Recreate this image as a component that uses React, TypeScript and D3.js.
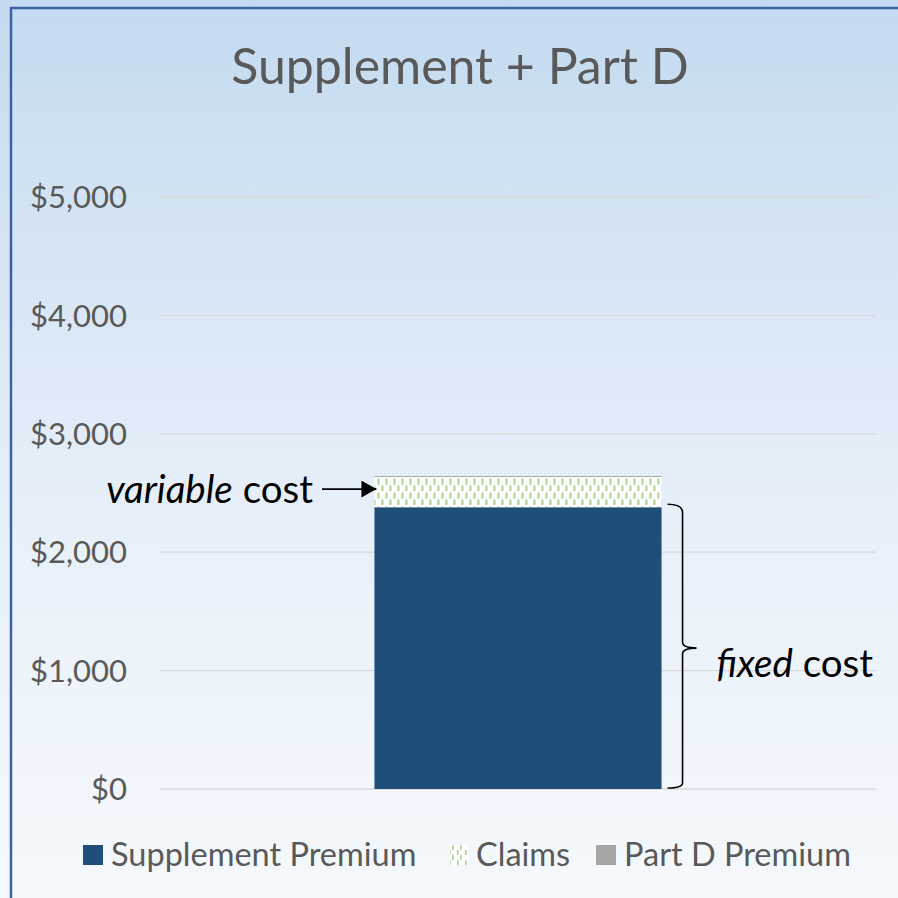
import React from 'react';
import * as d3 from 'd3';

// chart values
const categories = ['Supplement + Part D'];
const seriesNames = ['Supplement Premium', 'Claims', 'Part D Premium'];
const supplementPremium = [2380];
const claims = [255];
const partDPremium = [8];
const yTicks = [0, 1000, 2000, 3000, 4000, 5000];

const W = 898;
const H = 898;
const margin = { top: 197, right: 22, bottom: 109, left: 160 };
const colors = ['#1f4e79', 'url(#claimsPattern)', '#a5a5a5'];
const font = 'Lato, "Open Sans", sans-serif';

export default function App() {
  const rows = categories.map((c, i) => ({
    category: c,
    [seriesNames[0]]: supplementPremium[i],
    [seriesNames[1]]: claims[i],
    [seriesNames[2]]: partDPremium[i],
  }));
  const stacked = d3.stack<any>().keys(seriesNames)(rows);

  const x = d3
    .scaleBand()
    .domain(categories)
    .range([margin.left, W - margin.right])
    .paddingInner(0)
    .paddingOuter(0.747);

  const y = d3
    .scaleLinear()
    .domain([0, 5000])
    .range([H - margin.bottom, margin.top]);

  const fmt = (v: number) => '$' + d3.format(',')(v);

  const bx = x(categories[0]) as number;
  const bw = x.bandwidth();
  const fixedTop = y(stacked[0][0][1]);
  const varTop = y(stacked[1][0][1]);
  const varMid = (y(stacked[1][0][0]) + varTop) / 2;
  const base = y(0);

  // curly brace next to the fixed part
  const braceX = bx + bw + 6;
  const midY = (fixedTop + base) / 2;
  const bracePath = [
    `M${braceX},${fixedTop - 3}`,
    `Q${braceX + 15},${fixedTop - 3} ${braceX + 15},${fixedTop + 5}`,
    `L${braceX + 15},${midY - 6}`,
    `Q${braceX + 15},${midY} ${braceX + 29},${midY}`,
    `Q${braceX + 15},${midY} ${braceX + 15},${midY + 6}`,
    `L${braceX + 15},${base - 6}`,
    `Q${braceX + 15},${base - 1} ${braceX},${base - 1}`,
  ].join(' ');

  const legendItems = [
    { name: seriesNames[0], fill: colors[0], x: 83, w: 20 },
    { name: seriesNames[1], fill: 'url(#claimsLegend)', x: 450, w: 18 },
    { name: seriesNames[2], fill: colors[2], x: 596, w: 20 },
  ];

  return (
    <svg
      width={W}
      height={H}
      style={{ position: 'absolute', left: 0, top: 0, display: 'block' }}
    >
      <defs>
        <linearGradient id="bg" x1="0" y1="0" x2="0" y2="1">
          <stop offset="0" stopColor="#c4daf0" />
          <stop offset="0.55" stopColor="#e6eff9" />
          <stop offset="1" stopColor="#f5f9fd" />
        </linearGradient>
        <pattern id="claimsPattern" width="8" height="14" patternUnits="userSpaceOnUse" x={bx + 3} y={varTop}>
          <rect width="8" height="14" fill="#ffffff" />
          <rect x="0" y="1.5" width="2" height="6" fill="#a9d18e" />
          <rect x="4" y="8.5" width="2" height="6" fill="#a9d18e" />
        </pattern>
        <pattern id="claimsLegend" width="8" height="10" patternUnits="userSpaceOnUse" x={452} y={845}>
          <rect width="8" height="10" fill="#ffffff" />
          <rect x="0" y="0" width="1.6" height="5" fill="#a9d18e" />
          <rect x="5" y="5" width="1.6" height="5" fill="#a9d18e" />
        </pattern>
        <marker
          id="arrow"
          viewBox="0 0 15 17"
          refX="15"
          refY="8.5"
          markerWidth="15"
          markerHeight="17"
          markerUnits="userSpaceOnUse"
          orient="auto"
        >
          <path d="M0,0 L15,8.5 L0,17 Z" fill="#000" />
        </marker>
      </defs>

      <rect width={W} height={H} fill="url(#bg)" />
      <rect x={11} y={8} width={W + 10} height={H + 10} fill="none" stroke="#3d62a3" strokeWidth={2.5} />

      <text
        x={460}
        y={84}
        textAnchor="middle"
        fontFamily={font}
        fontSize={50}
        fill="#595959"
      >
        Supplement + Part D
      </text>

      {yTicks.map((t) => (
        <g key={t}>
          <line x1={margin.left} x2={W - margin.right} y1={y(t)} y2={y(t)} stroke="#d9d9d9" strokeWidth={1.3} />
          <text
            x={127}
            y={y(t)}
            dy="0.36em"
            textAnchor="end"
            fontFamily={font}
            fontSize={31}
            fill="#595959"
          >
            {fmt(t)}
          </text>
        </g>
      ))}

      {stacked.map((s, i) =>
        s.map((d, j) => (
          <rect
            key={`${i}-${j}`}
            x={x(categories[j])}
            width={bw}
            y={y(d[1])}
            height={y(d[0]) - y(d[1])}
            fill={colors[i]}
          />
        ))
      )}

      {/* annotations */}
      <text x={313} y={503} textAnchor="end" fontFamily={font} fontSize={38.5} fill="#000">
        <tspan fontStyle="italic">variable</tspan> cost
      </text>
      <line
        x1={322}
        x2={bx + 2}
        y1={varMid - 3}
        y2={varMid - 3}
        stroke="#000"
        strokeWidth={1.6}
        markerEnd="url(#arrow)"
      />
      <path d={bracePath} fill="none" stroke="#000" strokeWidth={1.6} />
      <text x={873} y={677} textAnchor="end" fontFamily={font} fontSize={38.5} fill="#000">
        <tspan fontStyle="italic">fixed</tspan> cost
      </text>

      {/* legend */}
      {legendItems.map((l) => (
        <g key={l.name}>
          <rect x={l.x} y={845} width={l.w} height={20} fill={l.fill} />
          <text x={l.x + l.w + 8} y={866} fontFamily={font} fontSize={32.5} fill="#595959">
            {l.name}
          </text>
        </g>
      ))}
    </svg>
  );
}
